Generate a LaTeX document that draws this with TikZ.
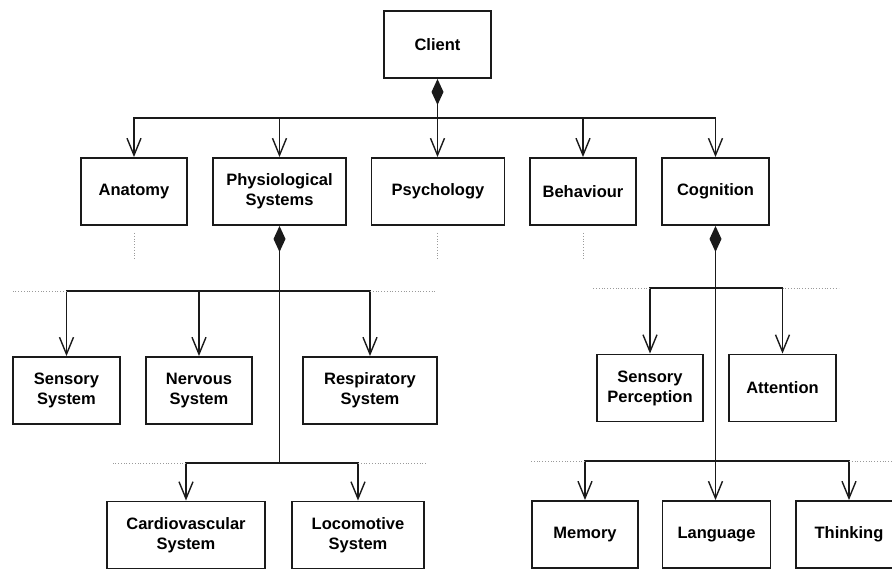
\documentclass[tikz,border=0pt]{standalone}
\usepackage{fontspec}
\setmainfont{Liberation Sans}
\usepackage{tikz}
\usetikzlibrary{arrows.meta, positioning, calc}
\definecolor{uline}{HTML}{1A1A1A}
\definecolor{udots}{HTML}{9A9A9A}
\tikzset{
  cbox/.style={draw=uline, line width=1.9pt, fill=white, align=center,
               minimum height=67pt, inner sep=2pt,
               font=\bfseries\fontsize{16.5}{20}\selectfont},
  arr/.style={-{Straight Barb[length=17pt,width=14pt]}, line width=1.4pt, uline},
  comp/.style={{Diamond[length=26pt,width=12pt]}-{Straight Barb[length=17pt,width=14pt]},
               line width=1.4pt, uline},
  compl/.style={{Diamond[length=26pt,width=12pt]}-, line width=1.4pt, uline},
  dots/.style={dotted, line width=0.8pt, udots},
}

\begin{document}
\begin{tikzpicture}[x=1pt, y=-1pt]
    \useasboundingbox (0,0) rectangle (892,568);

    % top level
    \node[cbox, minimum width=107pt] (client) at (437.5, 44.5) {Client};

    \node[cbox, minimum width=106pt] (anatomy) at (134, 191.5) {Anatomy};
    \node[cbox, minimum width=133pt] (physio) at (279.5, 191.5) {Physiological\\Systems};
    \node[cbox, minimum width=133pt] (psych) at (438, 191.5) {Psychology};
    \node[cbox, minimum width=106pt] (behav) at (583, 191.5) {Behaviour};
    \node[cbox, minimum width=107pt] (cogn) at (715.5, 191.5) {Cognition};

    % physiological systems
    \node[cbox, minimum width=107pt] (sensory) at (66.5, 390.5) {Sensory\\System};
    \node[cbox, minimum width=106pt] (nervous) at (199, 390.5) {Nervous\\System};
    \node[cbox, minimum width=134pt] (resp) at (370, 390.5) {Respiratory\\System};
    \node[cbox, minimum width=158pt] (cardio) at (186, 535) {Cardiovascular\\System};
    \node[cbox, minimum width=132pt] (loco) at (358, 535) {Locomotive\\System};

    % cognition
    \node[cbox, minimum width=106pt] (sensperc) at (650, 388) {Sensory\\Perception};
    \node[cbox, minimum width=107pt] (attn) at (782.5, 388) {Attention};
    \node[cbox, minimum width=106pt] (memory) at (585, 534.5) {Memory};
    \node[cbox, minimum width=108pt] (lang) at (716.5, 534.5) {Language};
    \node[cbox, minimum width=106pt] (think) at (849, 534.5) {Thinking};

    % bus points
    \coordinate (cbus) at (437.5, 118);
    \coordinate (pbus1) at (279.5, 291);
    \coordinate (pbus2) at (279.5, 463);
    \coordinate (gbus1) at (715.5, 288);
    \coordinate (gbus2) at (715.5, 461);

    % client
    \draw[comp] (client.south) -- (client.south |- psych.north);
    \draw[arr] (cbus) -| (anatomy.north);
    \draw[arr] (cbus) -| (physio.north);
    \draw[arr] (cbus) -| (behav.north);
    \draw[arr] (cbus) -| (cogn.north);

    % physiological systems
    \draw[compl] (physio.south) -- (pbus2);
    \draw[arr] (pbus1) -| (sensory.north);
    \draw[arr] (pbus1) -| (nervous.north);
    \draw[arr] (pbus1) -| (resp.north);
    \draw[arr] (pbus2) -| (cardio.north);
    \draw[arr] (pbus2) -| (loco.north);

    % cognition
    \draw[comp] (cogn.south) -- (cogn.south |- lang.north);
    \draw[arr] (gbus1) -| (sensperc.north);
    \draw[arr] (gbus1) -| (attn.north);
    \draw[arr] (gbus2) -| (memory.north);
    \draw[arr] (gbus2) -| (think.north);

    % elided parts
    \draw[dots] (anatomy.south) ++(0,7) -- ++(0,27);
    \draw[dots] (psych.south) ++(-1,7) -- ++(0,27);
    \draw[dots] (behav.south) ++(0,7) -- ++(0,27);

    \draw[dots] (sensory.north |- pbus1) -- ++(-54,0);
    \draw[dots] (resp.north |- pbus1) -- ++(67,0);
    \draw[dots] (cardio.north |- pbus2) -- ++(-73,0);
    \draw[dots] (loco.north |- pbus2) -- ++(68,0);
    \draw[dots] (sensperc.north |- gbus1) -- ++(-57,0);
    \draw[dots] (attn.north |- gbus1) -- ++(56,0);
    \draw[dots] (memory.north |- gbus2) -- ++(-55,0);
    \draw[dots] (think.north |- gbus2) -- ++(45,0);
\end{tikzpicture}
\end{document}
